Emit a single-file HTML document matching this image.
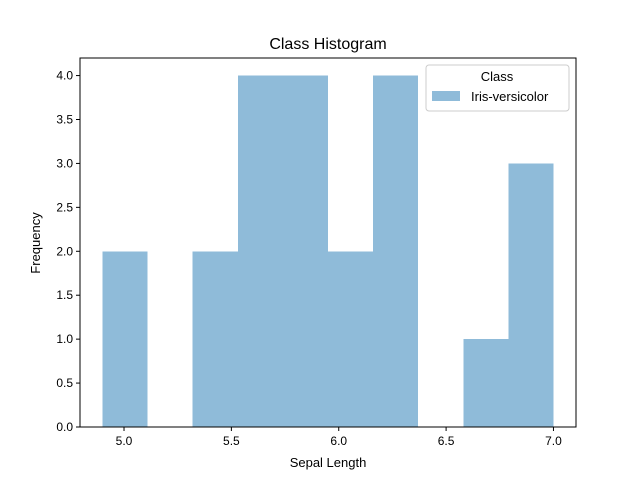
<!DOCTYPE html>
<html><head><meta charset="utf-8"><style>
body{margin:0;background:#fff;}
svg{font-family:"Liberation Sans","DejaVu Sans",sans-serif;}
</style></head><body>
<svg id="chart" width="640" height="480" xmlns="http://www.w3.org/2000/svg">
<rect width="640" height="480" fill="#fff"/>
<text x="328" y="49" font-size="16" text-anchor="middle">Class Histogram</text>
<g id="bars" shape-rendering="crispEdges"></g>
<g id="xticks"></g>
<g id="yticks"></g>
<rect x="80" y="58" width="496" height="369" fill="none" stroke="#000" stroke-width="1"/>
<text x="328" y="467" font-size="13" text-anchor="middle">Sepal Length</text>
<text transform="translate(40,243) rotate(-90)" font-size="13" text-anchor="middle">Frequency</text>
<g>
<rect x="426" y="65" width="143" height="46" rx="3" fill="#fff" fill-opacity="0.8" stroke="#ccc"/>
<text x="497" y="81" font-size="13" text-anchor="middle">Class</text>
<rect x="432" y="91" width="28" height="10" fill="#8fbbd9"/>
<text x="471" y="101" font-size="13">Iris-versicolor</text>
</g>
</svg>
<script>
const binEdges=[4.9,5.11,5.32,5.53,5.74,5.95,6.16,6.37,6.58,6.79,7.0];
const counts=[2,0,2,4,4,2,4,0,1,3];
const xTicks=[5.0,5.5,6.0,6.5,7.0];
const yTicks=[0,0.5,1,1.5,2,2.5,3,3.5,4];
const ns="http://www.w3.org/2000/svg";
const x0=80,x1=576,y0=427,y1=58,xmin=4.795,xmax=7.105,ymin=0,ymax=4.2;
const X=v=>x0+(v-xmin)/(xmax-xmin)*(x1-x0);
const Y=v=>y0-(v-ymin)/(ymax-ymin)*(y0-y1);
function mk(t,a){const e=document.createElementNS(ns,t);for(const k in a)e.setAttribute(k,a[k]);return e;}
const bars=document.getElementById('bars');
counts.forEach((c,i)=>{if(c<=0)return;
const r=mk('rect',{x:X(binEdges[i]),y:Y(c),width:X(binEdges[i+1])-X(binEdges[i]),height:Y(0)-Y(c),fill:'#8fbbd9'});


bars.appendChild(r);});
const xt=document.getElementById('xticks');
xTicks.forEach(v=>{const x=X(v);
xt.appendChild(mk('line',{x1:x,x2:x,y1:y0,y2:y0+4,stroke:'#000'}));
const t=mk('text',{x:x,y:y0+18,'font-size':12,'text-anchor':'middle'});t.textContent=v.toFixed(1);


xt.appendChild(t);});
const yt=document.getElementById('yticks');
yTicks.forEach(v=>{const y=Y(v);
yt.appendChild(mk('line',{x1:x0-4,x2:x0,y1:y,y2:y,stroke:'#000'}));
const t=mk('text',{x:x0-7,y:y+4,'font-size':12,'text-anchor':'end'});t.textContent=v.toFixed(1);


yt.appendChild(t);});
</script>
</body></html>
